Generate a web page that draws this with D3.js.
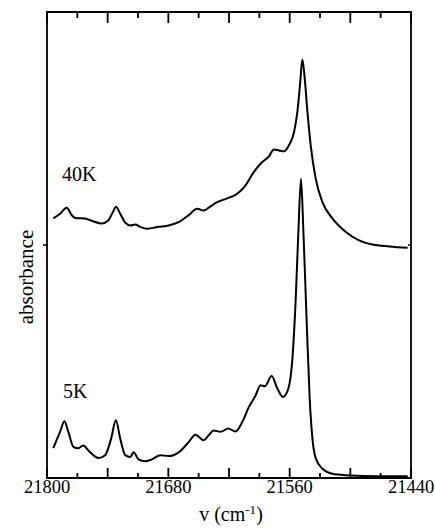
<!DOCTYPE html>
<html>
<head>
<meta charset="utf-8">
<script src="https://cdn.jsdelivr.net/npm/d3@7"></script>
<style>
    body { margin: 0; background: #fff; }
    svg { display: block; }
    svg text { font-family: "Liberation Serif", "Times New Roman", serif; fill: #000; }
</style>
</head>
<body>
<svg id="chart" width="435" height="529"></svg>
<script>
// wavenumber (cm-1), high to low
var wavenumber40K = [21793.8, 21787.1, 21780.5, 21775.5, 21772.2, 21762.3, 21755.7, 21745.8, 21739.2,
    21734.8, 21731.6, 21727.6, 21722.6, 21717.7, 21712.7, 21707.8, 21701.1, 21689.6, 21679.7,
    21669.8, 21659.9, 21651.5, 21645.0, 21638.3, 21631.7, 21621.8, 21611.9, 21603.6, 21595.4,
    21587.1, 21580.5, 21575.6, 21570.6, 21565.7, 21560.7, 21555.7, 21552.4, 21549.8, 21547.4,
    21545.1, 21542.4, 21539.2, 21534.2, 21527.6, 21517.7, 21504.5, 21491.3, 21478.0, 21461.5, 21443.3];
// absorbance (arb. units, fraction of frame height)
var absorbance40K = [0.557, 0.567, 0.580, 0.564, 0.558, 0.557, 0.552, 0.546, 0.553,
    0.571, 0.582, 0.567, 0.548, 0.542, 0.544, 0.539, 0.535, 0.539, 0.542,
    0.549, 0.564, 0.578, 0.574, 0.583, 0.592, 0.600, 0.610, 0.628, 0.657,
    0.678, 0.690, 0.705, 0.703, 0.701, 0.714, 0.742, 0.785, 0.843, 0.898,
    0.857, 0.785, 0.714, 0.642, 0.592, 0.557, 0.528, 0.510, 0.501, 0.497, 0.494];

var wavenumber5K = [21793.8, 21787.1, 21782.8, 21778.9, 21773.9, 21769.0, 21764.0, 21759.0, 21749.1,
    21742.5, 21736.5, 21731.9, 21727.6, 21722.6, 21717.7, 21714.4, 21709.5, 21702.8, 21696.2,
    21687.9, 21679.7, 21669.8, 21659.9, 21653.2, 21645.0, 21640.0, 21635.1, 21628.4, 21620.8,
    21613.6, 21606.9, 21600.4, 21593.7, 21588.8, 21584.5, 21577.8, 21572.2, 21566.6, 21561.3,
    21557.3, 21554.0, 21551.4, 21548.8, 21546.4, 21543.4, 21540.2, 21537.5, 21534.2, 21527.6,
    21517.7, 21504.5, 21471.4, 21443.3];
var absorbance5K = [0.064, 0.099, 0.122, 0.099, 0.067, 0.064, 0.070, 0.059, 0.043,
    0.049, 0.085, 0.124, 0.085, 0.049, 0.045, 0.055, 0.040, 0.036, 0.040,
    0.049, 0.047, 0.055, 0.077, 0.093, 0.081, 0.092, 0.102, 0.099, 0.106,
    0.100, 0.120, 0.152, 0.177, 0.199, 0.197, 0.219, 0.192, 0.174, 0.192,
    0.256, 0.385, 0.528, 0.642, 0.528, 0.349, 0.170, 0.085, 0.042, 0.020,
    0.009, 0.006, 0.004, 0.004];

var xTickValues = [21800, 21770, 21740, 21710, 21680, 21650, 21620, 21590, 21560, 21530, 21500, 21470, 21440];
var xTickLabels = [21800, 21680, 21560, 21440];
var yTickValues = [0.5];

var seriesNames = ['40K', '5K'];

class Spectrum {
    constructor() {
        this.dimensions = {
            // frame edges (px)
            left: 47,
            right: 411,
            top: 12,
            bottom: 478,

            // tick lengths (px)
            majorTick: 10,
            minorTick: 5,
        }

        this.x = d3.scaleLinear()
            .domain([21800, 21440])
            .range([this.dimensions.left, this.dimensions.right]);

        this.y = d3.scaleLinear()
            .domain([0, 1])
            .range([this.dimensions.bottom, this.dimensions.top]);

        this.base = d3.select('#chart').append('g');

        this.drawFrame();
        this.drawCurves();
        this.drawLabels();
    }

    drawFrame() {
        var d = this.dimensions,
            x = this.x,
            y = this.y,
            base = this.base;

        var isMajor = function (v) { return (21800 - v) % 60 === 0; };
        var tickLength = function (v) { return isMajor(v) ? d.majorTick : d.minorTick; };

        // tick marks on the bottom and top edges, pointing inward
        base.append('g').selectAll('line')
            .data(xTickValues)
            .enter()
            .append('line')
            .attr('x1', function (v) { return x(v); })
            .attr('x2', function (v) { return x(v); })
            .attr('y1', d.bottom)
            .attr('y2', function (v) { return d.bottom - tickLength(v); })
            .attr('stroke', '#000')
            .attr('stroke-width', 1.8);

        base.append('g').selectAll('line')
            .data(xTickValues)
            .enter()
            .append('line')
            .attr('x1', function (v) { return x(v); })
            .attr('x2', function (v) { return x(v); })
            .attr('y1', d.top)
            .attr('y2', function (v) { return d.top + tickLength(v) + 1; })
            .attr('stroke', '#000')
            .attr('stroke-width', 1.8);

        base.append('g').selectAll('text')
            .data(xTickLabels)
            .enter()
            .append('text')
            .attr('x', function (v) { return x(v); })
            .attr('y', d.bottom + 15)
            .attr('text-anchor', 'middle')
            .style('font-size', '18.5px')
            .text(function (v) { return v; });

        // single tick on each side edge
        yTickValues.forEach(function (v) {
            base.append('line')
                .attr('x1', d.left - 4).attr('x2', d.left)
                .attr('y1', y(v)).attr('y2', y(v))
                .attr('stroke', '#000').attr('stroke-width', 1.5);
            base.append('line')
                .attr('x1', d.right - 3).attr('x2', d.right)
                .attr('y1', y(v)).attr('y2', y(v))
                .attr('stroke', '#000').attr('stroke-width', 1.5);
        });

        base.append('path')
            .attr('d', 'M' + d.left + ',' + d.top + 'H' + d.right + 'V' + d.bottom + 'H' + d.left + 'Z')
            .attr('fill', 'none')
            .attr('stroke', '#000')
            .attr('stroke-width', 1.8);
    }

    drawCurves() {
        var x = this.x,
            y = this.y;

        var line = d3.line()
            .x(function (p) { return x(p[0]); })
            .y(function (p) { return y(p[1]); })
            .curve(d3.curveMonotoneX);

        var series = [
            d3.zip(wavenumber40K, absorbance40K),
            d3.zip(wavenumber5K, absorbance5K)
        ];

        this.base.append('g').selectAll('path')
            .data(series)
            .enter()
            .append('path')
            .attr('d', line)
            .attr('fill', 'none')
            .attr('stroke', '#000')
            .attr('stroke-width', 2)
            .attr('stroke-linejoin', 'round');
    }

    drawLabels() {
        var base = this.base;

        // temperature labels
        [[62, 181], [63, 398]].forEach(function (pos, i) {
            base.append('text')
                .attr('x', pos[0])
                .attr('y', pos[1])
                .style('font-size', '20px')
                .text(seriesNames[i]);
        });

        base.append('text')
            .attr('transform', 'translate(33,277) rotate(-90)')
            .attr('text-anchor', 'middle')
            .style('font-size', '21px')
            .text('absorbance');

        var title = base.append('text')
            .attr('x', 231)
            .attr('y', 521)
            .attr('text-anchor', 'middle')
            .style('font-size', '20px');
        title.append('tspan').text('v (cm');
        title.append('tspan')
            .attr('dy', -7)
            .style('font-size', '13px')
            .text('-1');
        title.append('tspan')
            .attr('dy', 7)
            .text(')');
    }
}

new Spectrum();
</script>
</body>
</html>
